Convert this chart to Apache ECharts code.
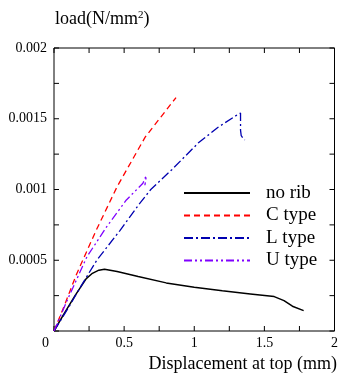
<!DOCTYPE html>
<html>
<head>
<meta charset="utf-8">
<script src="https://cdn.jsdelivr.net/npm/echarts@6/dist/echarts.min.js"></script>
<style>html,body{margin:0;padding:0;background:#fff}#c{width:341px;height:380px}</style>
</head>
<body>
<div id="c"></div>
<script>
var xTicks = [0, 0.5, 1, 1.5, 2];
var yTicks = [0.0005, 0.001, 0.0015, 0.002];
var xTickMarks = [0, 0.25, 0.5, 0.75, 1, 1.25, 1.5, 1.75, 2];
var yTickMarks = [0, 0.00025, 0.0005, 0.00075, 0.001, 0.00125, 0.0015, 0.00175, 0.002];
var seriesNames = ['no rib', 'C type', 'L type', 'U type'];
var noRib = [[0,0],[0.07,0.00012],[0.15,0.00025],[0.23,0.00037],[0.27,0.000405],[0.32,0.00043],[0.36,0.000437],[0.45,0.00042],[0.6,0.000385],[0.8,0.00034],[1.0,0.00031],[1.2,0.000285],[1.4,0.000262],[1.57,0.000243],[1.64,0.000215],[1.7,0.000175],[1.78,0.000144]];
var cType = [[0,0],[0.07,0.00017],[0.16,0.00040],[0.3,0.00071],[0.45,0.00102],[0.65,0.00137],[0.87,0.00165]];
var lType = [[0,0],[0.1,0.00016],[0.2,0.00033],[0.305,0.0005],[0.47,0.00071],[0.61,0.0009],[0.69,0.001],[0.84,0.00114],[1.03,0.00133],[1.17,0.00144],[1.31,0.00153],[1.33,0.00154],[1.33,0.00142],[1.335,0.00138],[1.35,0.00136],[1.36,0.00135]];
var uType = [[0,0],[0.1,0.00023],[0.235,0.000525],[0.376,0.000737],[0.516,0.000926],[0.634,0.001044],[0.657,0.001098],[0.655,0.00107],[0.648,0.00103]];

var FONT = '"Liberation Serif","Times New Roman",serif';
var TL = 5;
var XMAX = xTicks[xTicks.length-1], YMAX = yTicks[yTicks.length-1];
var chart = echarts.init(document.getElementById('c'));
function fmt(v){ return parseFloat(v.toPrecision(6)).toString(); }

function xTickRender(params, api){
  var v = api.value(0);
  var b = api.coord([v, 0]), t = api.coord([v, YMAX]);
  var st = {stroke:'#000', lineWidth:1};
  return {type:'group', children:[
    {type:'line', shape:{x1:b[0], y1:b[1], x2:b[0], y2:b[1]-TL}, style:st},
    {type:'line', shape:{x1:t[0], y1:t[1], x2:t[0], y2:t[1]+TL}, style:st}
  ]};
}
function yTickRender(params, api){
  var v = api.value(1);
  var l = api.coord([0, v]), r = api.coord([XMAX, v]);
  var st = {stroke:'#000', lineWidth:1};
  return {type:'group', children:[
    {type:'line', shape:{x1:l[0], y1:l[1], x2:l[0]+TL, y2:l[1]}, style:st},
    {type:'line', shape:{x1:r[0], y1:r[1], x2:r[0]-TL, y2:r[1]}, style:st}
  ]};
}

chart.setOption({
  animation:false,
  backgroundColor:'#fff',
  textStyle:{fontFamily:FONT},
  grid:{left:54, right:3, top:48, bottom:49, containLabel:false, show:true, borderColor:'#000', borderWidth:1, backgroundColor:'transparent'},
  graphic:[
    {type:'text', left:55, top:10, style:{text:'{a|load(N/mm}{s|2}{a|)}', rich:{a:{fontFamily:FONT, fontSize:18, fill:'#000'}, s:{fontFamily:FONT, fontSize:11, fill:'#000', verticalAlign:'top', padding:[0,0,8,0]}}}},
    {type:'text', right:4, top:355, style:{text:'Displacement at top (mm)', fontFamily:FONT, fontSize:18, fill:'#000'}}
  ],
  legend:{
    orient:'vertical', left:178, top:178, itemWidth:66, itemHeight:14, itemGap:2.5,
    data:seriesNames,
    itemStyle:{opacity:0},
    textStyle:{fontFamily:FONT, fontSize:19, lineHeight:20, color:'#000', padding:[0,0,0,11]}
  },
  xAxis:{type:'value', position:'bottom', min:0, max:XMAX, interval:0.5, axisLine:{show:false, onZero:false}, axisTick:{show:false}, splitLine:{show:false},
    axisLabel:{show:true, margin:5, color:'#000', fontFamily:FONT, fontSize:14,
      formatter:function(v){ return v===0 ? '{z|0}' : fmt(v); }, alignMinLabel:'right',
      rich:{z:{fontFamily:FONT, fontSize:14, color:'#000', padding:[0,5,0,0]}}}},
  yAxis:{type:'value', position:'left', min:0, max:YMAX, interval:0.0005, axisLine:{show:false, onZero:false}, axisTick:{show:false}, splitLine:{show:false},
    axisLabel:{show:true, margin:7, color:'#000', fontFamily:FONT, fontSize:14,
      formatter:function(v){ return v===0 ? '' : fmt(v); }}},
  series:[
    {name:seriesNames[0], type:'line', data:noRib, showSymbol:false, symbol:'none', color:'#000', lineStyle:{color:'#000', width:1.5, type:'solid'}},
    {name:seriesNames[1], type:'line', data:cType, showSymbol:false, symbol:'none', color:'#ff0000', lineStyle:{color:'#ff0000', width:1.3, type:[6,4]}},
    {name:seriesNames[2], type:'line', data:lType, showSymbol:false, symbol:'none', color:'#0000b0', lineStyle:{color:'#0000b0', width:1.3, type:[9,3,2,3]}},
    {name:seriesNames[3], type:'line', data:uType, showSymbol:false, symbol:'none', color:'#8000ff', lineStyle:{color:'#8000ff', width:1.3, type:[8,3,2,3,2,3]}},
    {name:'xTickMarks', type:'custom', silent:true, clip:false, renderItem:xTickRender, data:xTickMarks.map(function(v){ return [v, 0]; })},
    {name:'yTickMarks', type:'custom', silent:true, clip:false, renderItem:yTickRender, data:yTickMarks.map(function(v){ return [0, v]; })}
  ]
});
</script>
</body>
</html>
